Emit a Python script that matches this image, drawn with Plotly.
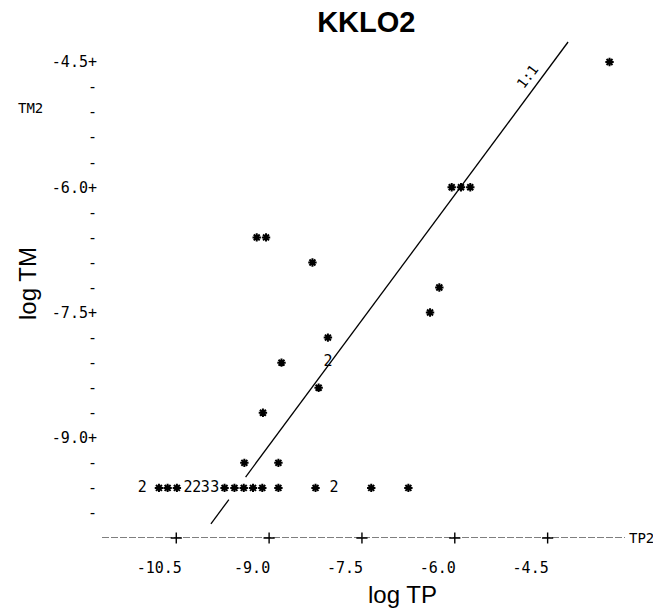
import plotly.graph_objects as go

# ---- data ----
tp = [-3.5,
      -6.05, -5.9, -5.75,
      -9.2, -9.05,
      -8.3,
      -6.25,
      -6.4,
      -8.05,
      -8.8, -8.05,
      -8.2,
      -9.1,
      -9.4, -8.85,
      -11.05, -10.78, -10.64, -10.49, -10.31, -10.17, -10.03, -9.88, -9.72, -9.56,
      -9.41, -9.26, -9.11, -8.85, -8.25, -7.95, -7.35, -6.75]
tm = [-4.5,
      -6.0, -6.0, -6.0,
      -6.6, -6.6,
      -6.9,
      -7.2,
      -7.5,
      -7.8,
      -8.1, -8.1,
      -8.4,
      -8.7,
      -9.3, -9.3,
      -9.6, -9.6, -9.6, -9.6, -9.6, -9.6, -9.6, -9.6, -9.6, -9.6,
      -9.6, -9.6, -9.6, -9.6, -9.6, -9.6, -9.6, -9.6]
counts = [1,
          1, 1, 1,
          1, 1,
          1,
          1,
          1,
          1,
          1, 2,
          1,
          1,
          1, 1,
          2, 1, 1, 1, 2, 2, 3, 3, 1, 1,
          1, 1, 1, 1, 1, 2, 1, 1]

x_tick_vals = [-10.5, -9.0, -7.5, -6.0, -4.5]
x_tick_text = ["-10.5", "-9.0", "-7.5", "-6.0", "-4.5"]
y_tick_vals = [-9.9, -9.6, -9.3, -9.0, -8.7, -8.4, -8.1, -7.8, -7.5, -7.2,
               -6.9, -6.6, -6.3, -6.0, -5.7, -5.4, -5.1, -4.8, -4.5]
y_tick_text = ["-", "-", "-", "-9.0+", "-", "-", "-", "-", "-7.5+", "-",
               "-", "-", "-", "-6.0+", "-", "-", "-", "-", "-4.5+"]

line_x = [-9.94, -9.65, None, -9.38, -4.17]
line_y = [-10.03, -9.74, None, -9.47, -4.26]

x_range = [-11.7, -3.25]
y_range = [-10.2, -4.2]

MONO = "DejaVu Sans Mono, Liberation Mono, monospace"
SANS = "Liberation Sans, Arial, sans-serif"

single_x = [x for x, c in zip(tp, counts) if c == 1]
single_y = [y for y, c in zip(tm, counts) if c == 1]
multi_x = [x for x, c in zip(tp, counts) if c > 1]
multi_y = [y for y, c in zip(tm, counts) if c > 1]
multi_t = [str(c) for c in counts if c > 1]

fig = go.Figure()

# 1:1 line
fig.add_trace(go.Scatter(x=line_x, y=line_y, mode="lines",
                         line=dict(color="black", width=1.3),
                         hoverinfo="skip", showlegend=False))

# x-axis "+" tick crosses
fig.add_trace(go.Scatter(x=x_tick_vals, y=[y_range[0]] * len(x_tick_vals),
                         mode="markers",
                         marker=dict(symbol="cross-thin-open", size=8, color="black",
                                     line=dict(color="black", width=1.4)),
                         hoverinfo="skip", showlegend=False, cliponaxis=False))

# single observations
fig.add_trace(go.Scatter(x=single_x, y=single_y, mode="markers",
                         marker=dict(symbol="asterisk-open", size=7, color="black",
                                     line=dict(color="black", width=2)),
                         showlegend=False, cliponaxis=False))

# coincident observations shown as counts
fig.add_trace(go.Scatter(x=multi_x, y=multi_y, mode="text", text=multi_t,
                         textposition="middle center",
                         textfont=dict(family=MONO, size=15, color="black"),
                         showlegend=False, cliponaxis=False))

# dashed printer-style x axis
fig.add_shape(type="line", xref="paper", yref="y", x0=0, x1=1,
              y0=y_range[0], y1=y_range[0],
              line=dict(color="black", width=1.2, dash="7px,2px"))

fig.update_layout(
    width=653, height=610,
    margin=dict(l=102, r=28, t=37, b=72),
    paper_bgcolor="white", plot_bgcolor="white",
    title=dict(text="<b>KKLO2</b>", x=0.561, xanchor="center",
               y=0.964, yanchor="middle",
               font=dict(family=SANS, size=29, color="black")),
    xaxis=dict(range=x_range, showgrid=False, zeroline=False, showline=False,
               tickmode="array", tickvals=x_tick_vals, ticktext=x_tick_text,
               ticks="", ticklabelshift=-17, ticklabelstandoff=19,
               tickfont=dict(family=MONO, size=15, color="black")),
    yaxis=dict(range=y_range, showgrid=False, zeroline=False, showline=False,
               tickmode="array", tickvals=y_tick_vals, ticktext=y_tick_text,
               ticks="", ticklabelstandoff=4,
               tickfont=dict(family=MONO, size=15, color="black")),
    annotations=[
        dict(text="log TP", xref="paper", yref="paper",
             x=(402 - 102) / 523, y=-0.112, xanchor="center", yanchor="middle",
             showarrow=False, font=dict(family=SANS, size=24, color="black")),
        dict(text="log TM", xref="paper", yref="paper",
             x=(27 - 102) / 523, y=(610 - 72 - 284) / 501, textangle=-90,
             xanchor="center", yanchor="middle",
             showarrow=False, font=dict(family=SANS, size=24, color="black")),
        dict(text="TM2", xref="paper", yref="paper",
             x=(30 - 102) / 523, y=(610 - 72 - 108) / 501,
             xanchor="center", yanchor="middle", showarrow=False,
             font=dict(family=MONO, size=14, color="black")),
        dict(text="TP2", xref="paper", yref="y",
             x=1.003, y=y_range[0], xanchor="left", yanchor="middle",
             showarrow=False, font=dict(family=MONO, size=14, color="black")),
        dict(text="1:1", xref="paper", yref="paper",
             x=(527 - 102) / 523, y=(610 - 72 - 77) / 501, textangle=-53,
             xanchor="center", yanchor="middle", showarrow=False,
             font=dict(family=MONO, size=14, color="black")),
    ],
)

fig.write_html("out.html")
